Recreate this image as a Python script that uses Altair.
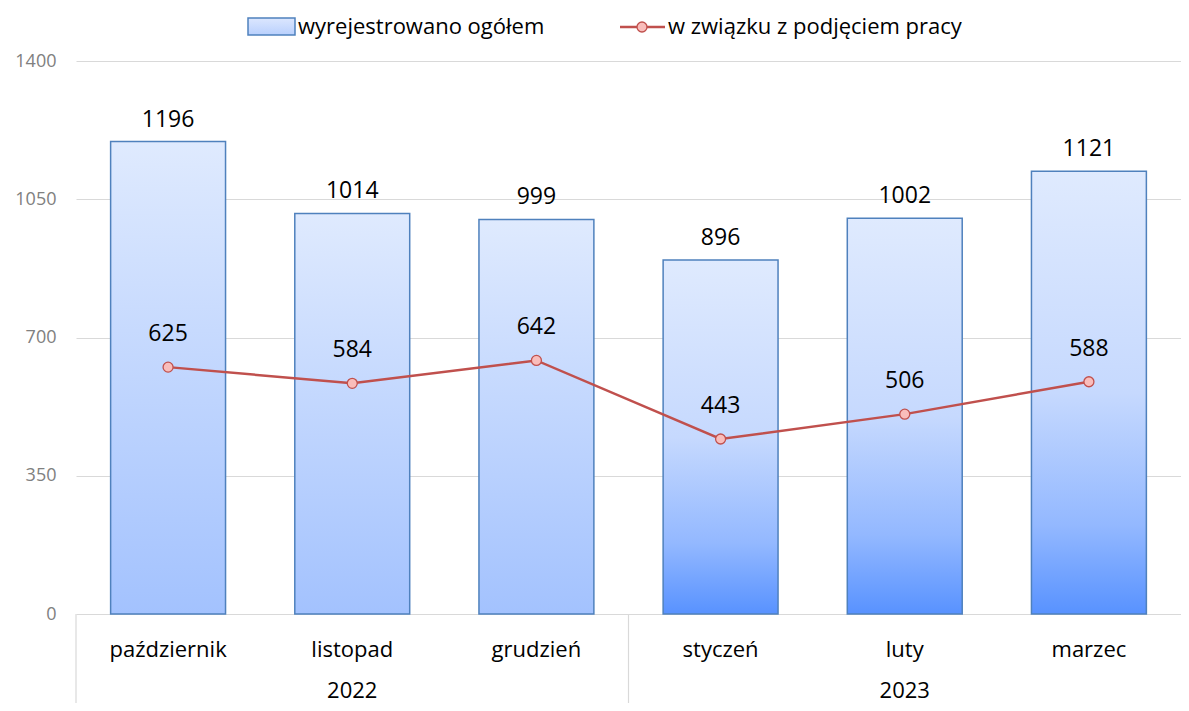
import altair as alt
import pandas as pd

months = ["październik", "listopad", "grudzień", "styczeń", "luty", "marzec"]
years = ["2022", "2022", "2022", "2023", "2023", "2023"]
total = [1196, 1014, 999, 896, 1002, 1121]
job = [625, 584, 642, 443, 506, 588]

year_labels = ["2022", "2023"]
year_centers = ["listopad", "luty"]
separators = ["październik", "styczeń"]
y_ticks = [0, 350, 700, 1050, 1400]

legend_bar = "wyrejestrowano ogółem"
legend_line = "w związku z podjęciem pracy"

W, H = 1105, 553
FONT = "Open Sans"

df = pd.DataFrame({"month": months, "year": years, "total": total, "job": job})
df_years = pd.DataFrame({"month": year_centers, "label": year_labels})
df_sep = pd.DataFrame({"month": separators})
one = pd.DataFrame({"a": [0]})

xscale = alt.Scale(domain=months, paddingInner=0, paddingOuter=0)
yscale = alt.Scale(domain=[0, 1400], nice=False)

yaxis = alt.Axis(values=y_ticks, grid=True, gridColor="#D9D9D9", gridWidth=1.2,
                 domain=False, ticks=False, format="d",
                 labelFont=FONT, labelFontSize=18, labelColor="#808080",
                 labelPadding=20, title=None)

grad_2022 = {
    "gradient": "linear", "x1": 0, "y1": 0, "x2": 0, "y2": 1,
    "stops": [{"offset": 0, "color": "#DFEAFE"}, {"offset": 1, "color": "#A3C2FE"}],
}
grad_2023 = {
    "gradient": "linear", "x1": 0, "y1": 0, "x2": 0, "y2": 1,
    "stops": [
        {"offset": 0, "color": "#DFEAFE"},
        {"offset": 0.5, "color": "#C6D9FE"},
        {"offset": 0.8, "color": "#93B8FF"},
        {"offset": 1, "color": "#5892FF"},
    ],
}
grad_leg = {
    "gradient": "linear", "x1": 0, "y1": 0, "x2": 0, "y2": 1,
    "stops": [{"offset": 0, "color": "#DCE7FE"}, {"offset": 1, "color": "#B9D0FD"}],
}

base = alt.Chart(df)

x_enc = alt.X("month:N", scale=xscale, sort=months, axis=None)

def y_of(field):
    return alt.Y(field, scale=yscale, axis=yaxis)

bars22 = base.transform_filter(alt.datum.year == "2022").mark_bar(
    color=grad_2022, stroke="#4F81BD", strokeWidth=1.5, width=alt.RelativeBandSize(0.624)
).encode(x=x_enc, y=y_of("total:Q"))

bars23 = base.transform_filter(alt.datum.year == "2023").mark_bar(
    color=grad_2023, stroke="#4F81BD", strokeWidth=1.5, width=alt.RelativeBandSize(0.624)
).encode(x=x_enc, y=y_of("total:Q"))

bar_text = base.mark_text(font=FONT, fontSize=23, color="#000000", baseline="alphabetic", dy=-15).encode(
    x=x_enc, y=y_of("total:Q"), text="total:Q")

line = base.mark_line(color="#C0504D", strokeWidth=2.5).encode(
    x=x_enc, y=y_of("job:Q"))
pts = base.mark_point(shape="circle", filled=True, fill="#F9BDBB", stroke="#C0504D",
                      strokeWidth=1.3, size=100, opacity=1).encode(
    x=x_enc, y=y_of("job:Q"))
line_text = base.mark_text(font=FONT, fontSize=23, color="#000000", baseline="alphabetic", dy=-26).encode(
    x=x_enc, y=y_of("job:Q"), text="job:Q")

month_text = base.mark_text(font=FONT, fontSize=22, color="#000000", baseline="middle").encode(
    x=x_enc, y=alt.value(H + 36), text="month:N")
year_text = alt.Chart(df_years).mark_text(font=FONT, fontSize=22, color="#000000", baseline="middle").encode(
    x=alt.X("month:N", scale=xscale, axis=None), y=alt.value(H + 77), text="label:N")
sep = alt.Chart(df_sep).mark_rule(color="#D9D9D9", strokeWidth=1.2).encode(
    x=alt.X("month:N", scale=xscale, axis=None, bandPosition=0),
    y=alt.value(H), y2=alt.value(H + 110))

leg_rect = alt.Chart(one).mark_rect(color=grad_leg, stroke="#4F81BD", strokeWidth=1.5).encode(
    x=alt.value(172), x2=alt.value(219), y=alt.value(-43), y2=alt.value(-26))
leg_text1 = alt.Chart(one).mark_text(font=FONT, fontSize=22, align="left", baseline="middle", color="#000000").encode(
    x=alt.value(222), y=alt.value(-34), text=alt.value(legend_bar))
leg_line = alt.Chart(one).mark_rule(color="#C0504D", strokeWidth=2.5).encode(
    x=alt.value(544), x2=alt.value(589), y=alt.value(-34))
leg_pt = alt.Chart(one).mark_point(shape="circle", filled=True, fill="#F9BDBB", stroke="#C0504D",
                                   strokeWidth=1.3, size=100, opacity=1).encode(
    x=alt.value(566), y=alt.value(-34))
leg_text2 = alt.Chart(one).mark_text(font=FONT, fontSize=22, align="left", baseline="middle", color="#000000").encode(
    x=alt.value(592), y=alt.value(-34), text=alt.value(legend_line))

chart = alt.layer(
    bars22, bars23, sep, line, pts, bar_text, line_text, month_text, year_text,
    leg_rect, leg_text1, leg_line, leg_pt, leg_text2,
).properties(
    width=W, height=H,
    background="white",
    padding={"left": 68, "top": 53, "right": 0, "bottom": 89},
    autosize=alt.AutoSizeParams(type="none"),
).configure_view(stroke="transparent", strokeWidth=0)

chart.save("out.html", embed_options={"renderer": "svg", "actions": False})
